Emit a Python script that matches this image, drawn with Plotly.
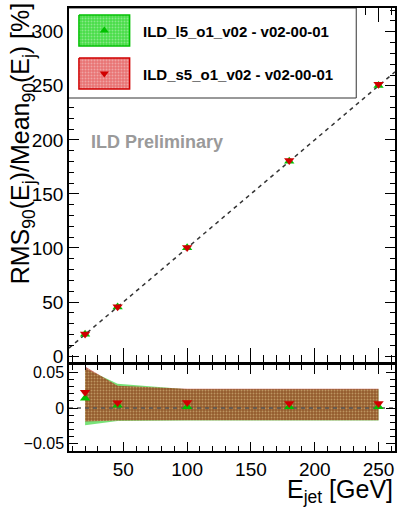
import plotly.graph_objects as go

# ---------------- data ----------------
energy = [20, 45.5, 100, 180, 250]
res_l5 = [20.2, 45.3, 100.2, 180.3, 250.4]
res_s5 = [20.4, 45.5, 100.5, 181.0, 251.4]
fit_x = [7.4, 262.9]
fit_y = [7.4, 262.9]

ratio_l5 = [0.0135, 0.0037, 0.0018, 0.0018, 0.0018]
ratio_s5 = [0.022, 0.0073, 0.0078, 0.0064, 0.0064]
band_l5_hi = [0.055, 0.034, 0.026, 0.026, 0.026]
band_l5_lo = [-0.024, -0.018, -0.0175, -0.0175, -0.0175]
band_s5_hi = [0.058, 0.031, 0.027, 0.027, 0.027]
band_s5_lo = [-0.019, -0.0175, -0.017, -0.017, -0.017]
zero_x = [7.4, 262.9]
zero_y = [0, 0]

label_l5 = "ILD_l5_o1_v02 - v02-00-01"
label_s5 = "ILD_s5_o1_v02 - v02-00-01"

GREEN = "#00c000"
RED = "#d00000"
FONT = "Liberation Sans"

W, H = 402, 509
ML, MR, MT, MB = 69, 5, 8, 58
PW, PH = W - ML - MR, H - MT - MB

def py(p):  # pixel y -> paper
    return (H - MB - p) / PH

def px(p):
    return (p - ML) / PW

fig = go.Figure()

# ---------- top panel ----------
fig.add_trace(go.Scatter(x=fit_x, y=fit_y, mode="lines",
                         line=dict(color="#333333", width=1.5, dash="4px,4px"),
                         xaxis="x", yaxis="y", showlegend=False, hoverinfo="skip"))
fig.add_trace(go.Scatter(x=energy, y=res_l5, mode="markers",
                         marker=dict(symbol="triangle-up", size=9, color=GREEN),
                         xaxis="x", yaxis="y", showlegend=False))
fig.add_trace(go.Scatter(x=energy, y=res_s5, mode="markers",
                         marker=dict(symbol="triangle-down", size=9, color=RED),
                         xaxis="x", yaxis="y", showlegend=False))

# ---------- bottom panel ----------
pat = dict(shape=".", fillmode="overlay", fgcolor="#f0dca0", fgopacity=0.45, size=3, solidity=0.3)
fig.add_trace(go.Scatter(x=energy + energy[::-1], y=band_l5_hi + band_l5_lo[::-1],
                         fill="toself", fillcolor="rgba(0,200,0,0.53)", mode="none",
                         xaxis="x2", yaxis="y2", showlegend=False, hoverinfo="skip"))
fig.add_trace(go.Scatter(x=energy + energy[::-1], y=band_s5_hi + band_s5_lo[::-1],
                         fill="toself", fillcolor="rgba(165,10,0,0.62)", mode="none",
                         fillpattern=pat,
                         xaxis="x2", yaxis="y2", showlegend=False, hoverinfo="skip"))
fig.add_trace(go.Scatter(x=zero_x, y=zero_y, mode="lines",
                         line=dict(color="#555555", width=1.5, dash="4px,4px"),
                         xaxis="x2", yaxis="y2", showlegend=False, hoverinfo="skip"))
fig.add_trace(go.Scatter(x=energy, y=ratio_l5, mode="markers",
                         marker=dict(symbol="triangle-up", size=9, color=GREEN),
                         xaxis="x2", yaxis="y2", showlegend=False))
fig.add_trace(go.Scatter(x=energy, y=ratio_s5, mode="markers",
                         marker=dict(symbol="triangle-down", size=9, color=RED),
                         xaxis="x2", yaxis="y2", showlegend=False))

# ---------- legend (drawn in pixel-coordinate overlay axes) ----------
def box(x0, y0, x1, y1):
    return [x0, x1, x1, x0, x0], [y0, y0, y1, y1, y0]

bx, by = box(68, 8, 358, 98)
fig.add_trace(go.Scatter(x=bx, y=by, fill="toself", fillcolor="white", mode="lines",
                         line=dict(color="#333333", width=1), xaxis="x3", yaxis="y3",
                         showlegend=False, hoverinfo="skip"))
for (y0, y1, fc, lc, sym, mc, lab) in [
        (15, 46, "rgba(40,215,40,0.85)", GREEN, "triangle-up", GREEN, label_l5),
        (58, 89, "rgba(228,90,90,0.85)", RED, "triangle-down", RED, label_s5)]:
    rx, ry = box(79, y0, 130, y1)
    fig.add_trace(go.Scatter(x=rx, y=ry, fill="toself", fillcolor=fc, mode="lines",
                             line=dict(color=lc, width=1.5),
                             fillpattern=dict(shape=".", fillmode="overlay", fgcolor="#ffffff",
                                              fgopacity=0.35, size=3, solidity=0.35),
                             xaxis="x3", yaxis="y3", showlegend=False, hoverinfo="skip"))
    fig.add_trace(go.Scatter(x=[104.5], y=[(y0 + y1) / 2], mode="markers",
                             marker=dict(symbol=sym, size=8, color=mc),
                             xaxis="x3", yaxis="y3", showlegend=False, hoverinfo="skip"))
    fig.add_annotation(x=px(141), y=py((y0 + y1) / 2 + 1), xref="paper", yref="paper",
                       text="<b>%s</b>" % lab, showarrow=False, xanchor="left", yanchor="middle",
                       font=dict(family=FONT, size=15, color="black"))

# ILD Preliminary
fig.add_annotation(x=px(89), y=py(142), xref="paper", yref="paper",
                   text="<b>ILD Preliminary</b>", showarrow=False, xanchor="left", yanchor="middle",
                   font=dict(family=FONT, size=18, color="#9a9a9a"))

# axis titles
fig.add_annotation(x=px(22), y=py(0), xref="paper", yref="paper", textangle=-90,
                   text="RMS<sub>90</sub>(E<sub>j</sub>)/Mean<sub>90</sub>(E<sub>j</sub>) [%]",
                   showarrow=False, xanchor="center", yanchor="top",
                   font=dict(family=FONT, size=25, color="black"))
fig.add_annotation(x=1, y=py(509), xref="paper", yref="paper",
                   text="E<sub>jet</sub> [GeV]", showarrow=False, xanchor="right", yanchor="bottom",
                   font=dict(family=FONT, size=25, color="black"))

xr = [7.4, 262.9]
ax_common = dict(showgrid=False, zeroline=False, showline=True, linecolor="black",
                 linewidth=1.5, mirror="ticks", ticks="inside", tickcolor="black")

fig.update_layout(
    width=W, height=H, margin=dict(l=ML, r=MR, t=MT, b=MB),
    paper_bgcolor="white", plot_bgcolor="rgba(0,0,0,0)",
    xaxis=dict(domain=[0, 1], anchor="y", range=xr, dtick=50, tick0=0, showticklabels=False,
               ticklen=14, minor=dict(dtick=10, ticklen=7, ticks="inside", tickcolor="black"),
               **ax_common),
    yaxis=dict(domain=[py(362), 1], anchor="x", range=[-5.5, 322], dtick=50, tick0=0,
               ticklen=10, minor=dict(dtick=10, ticklen=5, ticks="inside", tickcolor="black"),
               tickfont=dict(family=FONT, size=19, color="black"), **ax_common),
    xaxis2=dict(domain=[0, 1], anchor="y2", range=xr, dtick=50, tick0=0,
                ticklen=9, minor=dict(dtick=10, ticklen=5, ticks="inside", tickcolor="black"),
                tickfont=dict(family=FONT, size=19, color="black"), **ax_common),
    yaxis2=dict(domain=[0, py(365)], anchor="x2", range=[-0.06, 0.06],
                tickvals=[-0.05, 0, 0.05], ticktext=["\u22120.05", "0", "0.05"],
                ticklen=9, minor=dict(dtick=0.01, ticklen=5, ticks="inside", tickcolor="black"),
                tickfont=dict(family=FONT, size=16, color="black"), **ax_common),
    xaxis3=dict(domain=[0, 1], anchor="y3", range=[ML, W - MR], visible=False, fixedrange=True),
    yaxis3=dict(domain=[0, 1], anchor="x3", range=[H - MB, MT], visible=False, fixedrange=True),
)

fig.write_html("out.html")
